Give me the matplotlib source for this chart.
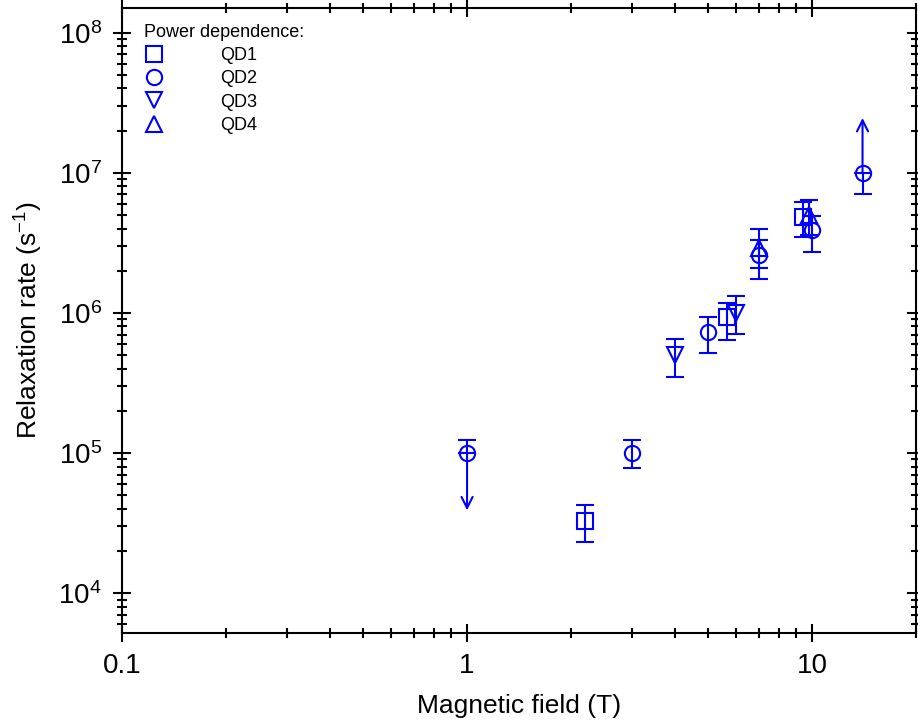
import numpy as np
import matplotlib
matplotlib.use('Agg')
import matplotlib.pyplot as plt
from matplotlib import ticker
from matplotlib.lines import Line2D

plt.rcParams['font.family'] = ['Liberation Sans', 'DejaVu Sans']
plt.rcParams['mathtext.fontset'] = 'custom'
plt.rcParams['mathtext.rm'] = 'Liberation Sans'

# data: field (T), rate (s^-1), lower / upper error ends
qd1_x = [2.2, 5.65, 9.4]
qd1_y = [3.3e4, 9.4e5, 4.85e6]
qd1_lo = [2.3e4, 6.4e5, 3.5e6]
qd1_hi = [4.25e4, 1.18e6, 6.2e6]

qd2_x = [3.0, 5.0, 7.0, 10.0]
qd2_y = [1.0e5, 7.3e5, 2.6e6, 3.9e6]
qd2_lo = [7.8e4, 5.2e5, 1.75e6, 2.7e6]
qd2_hi = [1.24e5, 9.4e5, 3.3e6, 4.9e6]

qd3_x = [4.0, 6.0]
qd3_y = [5.0e5, 1.0e6]
qd3_lo = [3.5e5, 7.1e5]
qd3_hi = [6.5e5, 1.33e6]

qd4_x = [7.0, 9.8]
qd4_y = [2.9e6, 5.0e6]
qd4_lo = [2.1e6, 3.6e6]
qd4_hi = [4.0e6, 6.4e6]

# QD2 limits: point, one error end, arrow tip
lim_x = [1.0, 14.0]
lim_y = [1.0e5, 1.0e7]
lim_cap = [1.24e5, 7.1e6]
lim_tip = [3.9e4, 2.46e7]

blue = '#0000ff'

fig = plt.figure(figsize=(9.18, 7.22), dpi=100)
ax = fig.add_axes([0.1329, 0.1233, 0.8649, 0.8657])

series = [(qd1_x, qd1_y, qd1_lo, qd1_hi, 's', 'QD1'),
          (qd2_x, qd2_y, qd2_lo, qd2_hi, 'o', 'QD2'),
          (qd3_x, qd3_y, qd3_lo, qd3_hi, 'v', 'QD3'),
          (qd4_x, qd4_y, qd4_lo, qd4_hi, '^', 'QD4')]

for x, y, lo, hi, m, lab in series:
    y = np.array(y)
    yerr = [y - np.array(lo), np.array(hi) - y]
    ax.errorbar(x, y, yerr=yerr, fmt=m, ms=11, mfc='none', mec=blue, mew=1.5,
                ecolor=blue, elinewidth=1.5, capsize=6.5, capthick=1.5)

# limit points: circle, cap on one side, arrow on the other
for x, y, cap, tip in zip(lim_x, lim_y, lim_cap, lim_tip):
    ax.errorbar([x], [y], yerr=[[max(y - cap, 0)], [max(cap - y, 0)]], fmt='o', ms=11,
                mfc='none', mec=blue, mew=1.5, ecolor=blue, elinewidth=1.5,
                capsize=6.5, capthick=1.5)
    ax.annotate('', xy=(x, tip), xytext=(x, y),
                arrowprops=dict(arrowstyle='->', color=blue, lw=1.5,
                                mutation_scale=20, shrinkA=0, shrinkB=0))

ax.set_xscale('log')
ax.set_yscale('log')
ax.set_xlim(0.1, 20)
ax.set_ylim(5.2e3, 1.5e8)

ax.xaxis.set_major_formatter(ticker.FuncFormatter(lambda v, p: f'{v:g}'))
ax.xaxis.set_minor_formatter(ticker.NullFormatter())
ax.yaxis.set_minor_locator(ticker.LogLocator(subs=np.arange(2, 10)))
ax.yaxis.set_minor_formatter(ticker.NullFormatter())

ax.tick_params(which='both', direction='inout', top=True, right=True,
               width=1.5, labelsize=20, pad=8)
ax.tick_params(which='major', length=13)
ax.tick_params(which='minor', length=7)
for s in ax.spines.values():
    s.set_linewidth(1.5)

ax.set_xlabel('Magnetic field (T)', fontsize=19, labelpad=11)
ax.set_ylabel('Relaxation rate (s$^{-1}$)', fontsize=19, labelpad=10)

handles = [Line2D([], [], ls='none', marker=m, ms=11, mfc='none', mec=blue, mew=1.5)
           for m in ['s', 'o', 'v', '^']]
leg = ax.legend(handles, ['QD1', 'QD2', 'QD3', 'QD4'], title='Power dependence:',
                loc='upper left', bbox_to_anchor=(0.028, 0.975), frameon=False,
                fontsize=13, title_fontsize=13, alignment='left',
                handlelength=1.1, handletextpad=3.1, labelspacing=0.35,
                borderaxespad=0, borderpad=0)

fig.savefig('out.png', dpi=100)
